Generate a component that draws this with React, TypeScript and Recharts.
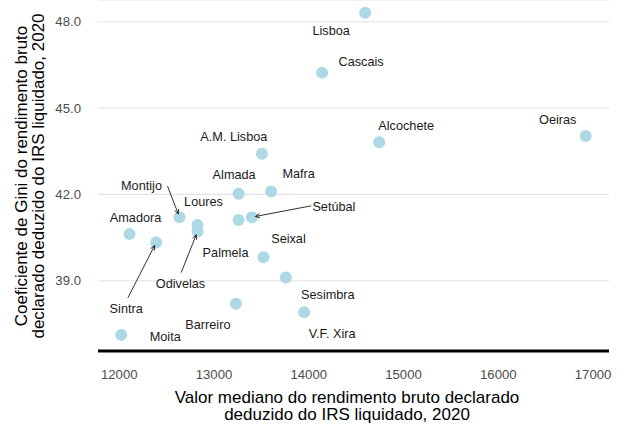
import React from 'react';
import { ScatterChart, Scatter, XAxis, YAxis, CartesianGrid } from 'recharts';

const municipalities = ['Lisboa', 'Cascais', 'Alcochete', 'Oeiras', 'A.M. Lisboa', 'Almada', 'Mafra', 'Montijo', 'Loures', 'Odivelas', 'Palmela', 'Setúbal', 'Amadora', 'Sintra', 'Seixal', 'Sesimbra', 'Barreiro', 'V.F. Xira', 'Moita'];
const medianIncome = [14595, 14141, 14743, 16923, 13505, 13260, 13603, 12636, 12826, 12826, 13259, 13400, 12109, 12390, 13522, 13758, 13231, 13951, 12021];
const giniIndex = [48.31, 46.23, 43.81, 44.03, 43.41, 42.02, 42.10, 41.21, 40.94, 40.71, 41.11, 41.21, 40.62, 40.33, 39.82, 39.11, 38.20, 37.91, 37.12];
const xTicks = [12000, 13000, 14000, 15000, 16000, 17000];
const yTicks = [39, 42, 45, 48];

const data = municipalities.map((name, i) => ({ name, income: medianIncome[i], gini: giniIndex[i] }));

// label placement (pixel offsets from point centre), like ggrepel output
const labelOffsets: Record<string, [number, number]> = {
  'Lisboa': [-34, 18],
  'Cascais': [39, -11],
  'Alcochete': [27, -17],
  'Oeiras': [-28, -17],
  'A.M. Lisboa': [-28, -17],
  'Almada': [-4.5, -19],
  'Mafra': [27.5, -18],
  'Montijo': [-38, -32],
  'Loures': [6, -23],
  'Odivelas': [-17, 52],
  'Palmela': [-13, 32],
  'Setúbal': [82, -11],
  'Amadora': [6, -17],
  'Sintra': [-30, 66],
  'Seixal': [25, -19],
  'Sesimbra': [42, 17],
  'Barreiro': [-28, 21],
  'V.F. Xira': [28, 21],
  'Moita': [44, 2],
};

const arrowStarts: Record<string, [number, number]> = {
  'Montijo': [-12, -31],
  'Setúbal': [59.3, -11.3],
  'Sintra': [-28.3, 55.3],
  'Odivelas': [-16.3, 41],
};

const FONT = '"Liberation Sans", Arial, Helvetica, sans-serif';

const PointShape = (props: any) => {
  const { cx, cy } = props;
  return <circle cx={cx} cy={cy} r={6} fill="#add8e6" />;
};

const LabelShape = (props: any) => {
  const { cx, cy, payload } = props;
  const off = labelOffsets[payload.name] || [0, -15];
  const a = arrowStarts[payload.name];
  let arrow = null;
  if (a) {
    const sx = cx + a[0];
    const sy = cy + a[1];
    const len = Math.hypot(a[0], a[1]);
    const ux = a[0] / len;
    const uy = a[1] / len;
    const ex = cx + ux * 3.5;
    const ey = cy + uy * 3.5;
    const ang = Math.atan2(sy - ey, sx - ex);
    const hl = 5;
    const h1x = ex + hl * Math.cos(ang + 0.45);
    const h1y = ey + hl * Math.sin(ang + 0.45);
    const h2x = ex + hl * Math.cos(ang - 0.45);
    const h2y = ey + hl * Math.sin(ang - 0.45);
    arrow = (
      <g stroke="#1a1a1a" strokeWidth={0.9} fill="none">
        <line x1={sx} y1={sy} x2={ex} y2={ey} />
        <polyline points={`${h1x},${h1y} ${ex},${ey} ${h2x},${h2y}`} />
      </g>
    );
  }
  return (
    <g>
      {arrow}
      <text
        x={cx + off[0]}
        y={cy + off[1]}
        dy="0.36em"
        textAnchor="middle"
        fontSize={12.7}
        fontFamily={FONT}
        fill="#1a1a1a"
      >
        {payload.name}
      </text>
    </g>
  );
};

const XTitle = () => (
  <g>
    <text x={347} y={402.7} textAnchor="middle" fontSize={17} fontFamily={FONT} fill="#000">
      Valor mediano do rendimento bruto declarado
    </text>
    <text x={347} y={420} textAnchor="middle" fontSize={17} fontFamily={FONT} fill="#000">
      deduzido do IRS liquidado, 2020
    </text>
  </g>
);

const YTitle = () => (
  <g>
    <text x={26.5} y={176} transform="rotate(-90 26.5 176)" textAnchor="middle" fontSize={17} fontFamily={FONT} fill="#000">
      Coeficiente de Gini do rendimento bruto
    </text>
    <text x={44} y={176} transform="rotate(-90 44 176)" textAnchor="middle" fontSize={17} fontFamily={FONT} fill="#000">
      declarado deduzido do IRS liquidado, 2020
    </text>
  </g>
);

export default function App() {
  return (
    <div style={{ position: 'absolute', left: 0, top: 0, width: 627, height: 425, background: '#fff' }}>
      <ScatterChart width={627} height={425} margin={{ top: 0, right: 18, bottom: 0, left: 0 }}>
        <CartesianGrid horizontal={true} vertical={false} stroke="#e3e3e3" strokeWidth={1.1} />
        <XAxis
          type="number"
          dataKey="income"
          domain={[11776, 17168]}
          ticks={xTicks}
          height={74}
          tickLine={false}
          tickSize={6}
          tickMargin={13}
          axisLine={{ stroke: '#000', strokeWidth: 3 }}
          tick={{ fill: '#4d4d4d', fontSize: 13.2, fontFamily: FONT }}
          allowDataOverflow
          label={{ content: () => <XTitle /> }}
        />
        <YAxis
          type="number"
          dataKey="gini"
          domain={[36.56, 48.753]}
          ticks={yTicks}
          width={98}
          tickLine={false}
          axisLine={false}
          tickSize={6}
          tickMargin={11}
          tickFormatter={(v: number) => v.toFixed(1)}
          tick={{ fill: '#4d4d4d', fontSize: 13.2, fontFamily: FONT }}
          allowDataOverflow
          label={{ content: () => <YTitle /> }}
        />
        <Scatter data={data} shape={PointShape} isAnimationActive={false} />
        <Scatter data={data} shape={LabelShape} isAnimationActive={false} />
      </ScatterChart>
    </div>
  );
}
